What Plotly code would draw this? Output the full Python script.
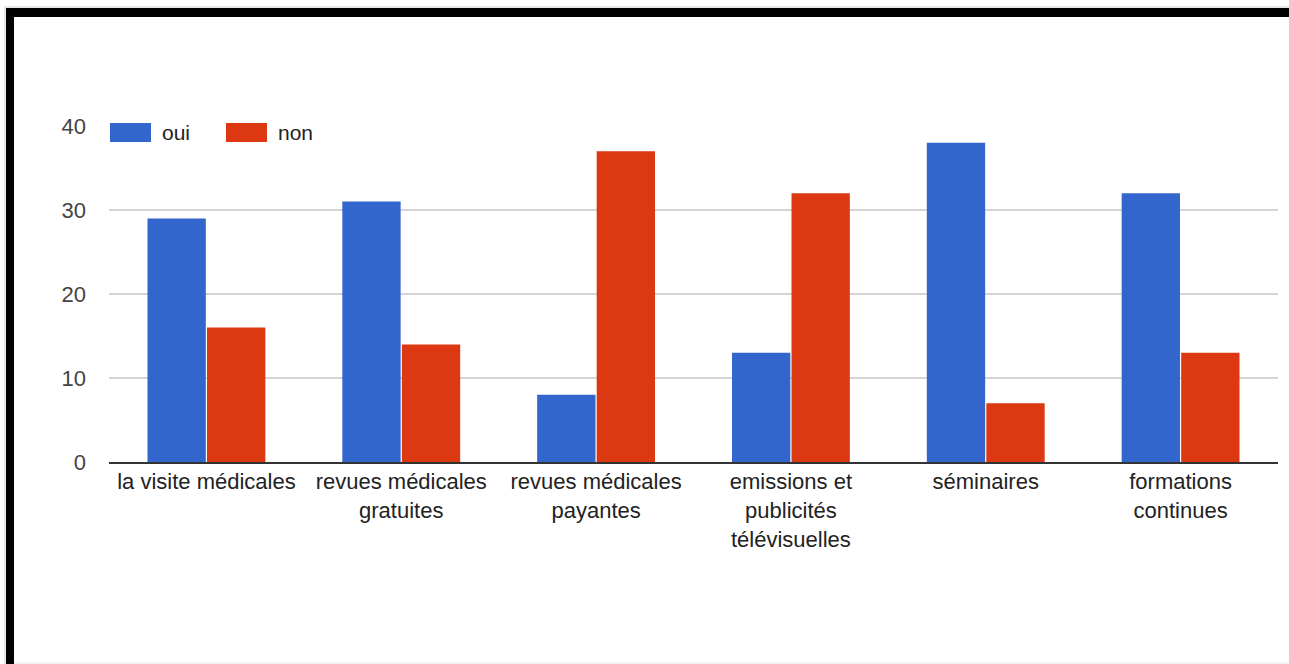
import plotly.graph_objects as go

# Sources d'information et réponses oui / non
categories = [
    "la visite médicales",
    "revues médicales<br>gratuites",
    "revues médicales<br>payantes",
    "emissions et<br>publicités<br>télévisuelles",
    "séminaires",
    "formations<br>continues",
]
oui = [29, 31, 8, 13, 38, 32]
non = [16, 14, 37, 32, 7, 13]
y_ticks = [0, 10, 20, 30, 40]

BLUE = "#3366cc"
RED = "#dc3912"
FONT = "Liberation Sans, Arial, sans-serif"
FS = 22

W, H = 1289, 664
L, R, T, B = 109, 11, 126, 202
PW, PH = W - L - R, H - T - B


def px(x):
    return (x - L) / PW


def py(y):
    return (H - B - y) / PH


fig = go.Figure()
fig.add_trace(go.Bar(name="oui", x=categories, y=oui, marker_color=BLUE,
                     marker_line_width=0))
fig.add_trace(go.Bar(name="non", x=categories, y=non, marker_color=RED,
                     marker_line_width=0))

shapes = []
annotations = []

# legend drawn as wide swatches over the top gridline
for x0, x1, tx, label, col in [(110, 151, 160, "oui", BLUE), (226, 267, 276, "non", RED)]:
    shapes.append(dict(type="rect", xref="paper", yref="paper", layer="above",
                       x0=px(x0), x1=px(x1), y0=py(142), y1=py(123),
                       fillcolor=col, line=dict(width=0)))
    annotations.append(dict(xref="paper", yref="paper", x=px(tx), y=py(132),
                            xanchor="left", yanchor="middle", showarrow=False,
                            text=label, font=dict(family=FONT, size=FS - 1, color="#222222")))

# black frame on the left and top
shapes += [
    dict(type="rect", xref="paper", yref="paper", layer="above",
         x0=px(6), x1=px(14), y0=py(664), y1=py(8),
         fillcolor="black", line=dict(width=0)),
    dict(type="rect", xref="paper", yref="paper", layer="above",
         x0=px(6), x1=px(1289), y0=py(17), y1=py(8),
         fillcolor="black", line=dict(width=0)),
    dict(type="line", xref="paper", yref="paper", layer="above",
         x0=px(5), x1=px(1289), y0=py(7), y1=py(7),
         line=dict(color="#cfcfcf", width=1)),
    dict(type="line", xref="paper", yref="paper", layer="above",
         x0=px(5), x1=px(5), y0=py(7), y1=py(664),
         line=dict(color="#cfcfcf", width=1)),
    dict(type="line", xref="paper", yref="paper", layer="above",
         x0=px(14), x1=px(1289), y0=py(663), y1=py(663),
         line=dict(color="#e6e6e6", width=1)),
]

fig.update_layout(
    width=W, height=H,
    margin=dict(l=L, r=R, t=T, b=B, pad=0),
    paper_bgcolor="white", plot_bgcolor="white",
    barmode="group", bargap=0.389, bargroupgap=0.02,
    showlegend=False,
    font=dict(family=FONT, size=FS, color="#222222"),
    shapes=shapes, annotations=annotations,
)
fig.update_xaxes(
    type="category", showgrid=False, showline=True, linecolor="#333333",
    linewidth=2, ticks="", tickangle=0, ticklabelstandoff=-1,
    tickfont=dict(family=FONT, size=FS, color="#222222"),
)
fig.update_yaxes(
    range=[0, 40], tickvals=y_ticks, showgrid=True, gridcolor="#d4d4d4",
    gridwidth=1.5, zeroline=False, showline=False, ticks="",
    ticklabelstandoff=22,
    tickfont=dict(family=FONT, size=FS, color="#444444"),
)

fig.write_html("out.html")
